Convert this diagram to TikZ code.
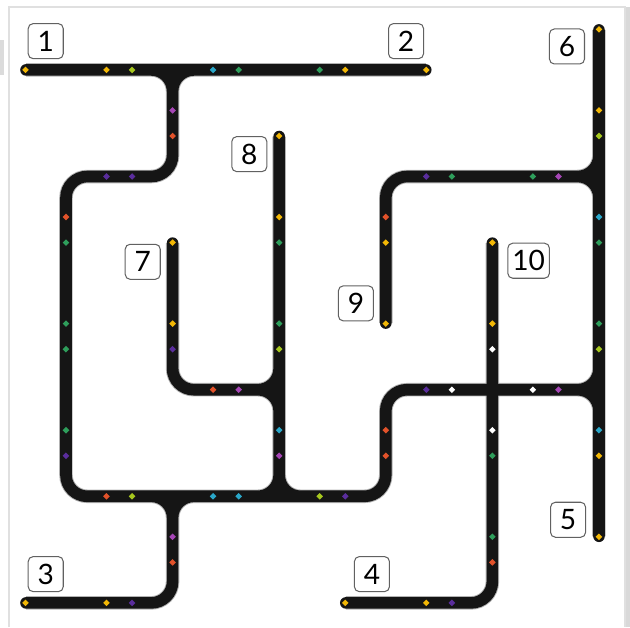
\documentclass[tikz,border=0pt]{standalone}
\usepackage{fontspec}
\newfontfamily\tagfont{Lato}
\definecolor{roadblack}{HTML}{151515}
\definecolor{dyellow}{HTML}{F2B705}
\definecolor{dlime}{HTML}{A6C71E}
\definecolor{dgreen}{HTML}{2E9E5B}
\definecolor{dcyan}{HTML}{2AA7C9}
\definecolor{dpurple}{HTML}{5A2D9C}
\definecolor{dmagenta}{HTML}{A545B5}
\definecolor{dred}{HTML}{E2522A}

\begin{document}
\begin{tikzpicture}[x=2cm,y=2cm,
  road/.style={draw=roadblack,line width=6.2pt,line cap=round,rounded corners=0.4cm,
    preaction={draw=black!30,line width=7.2pt}},
  tag/.style={draw=black!62,line width=0.55pt,rounded corners=2.6pt,fill=white,
    minimum size=18.7pt,inner xsep=2.4pt,inner ysep=0pt,
    font=\tagfont\fontsize{15}{15}\selectfont}]
\useasboundingbox (-0.619,-0.230) rectangle (5.291,5.656);
% ---------- page edge ----------
\fill[black!15] (5.244,-0.230) rectangle (5.291,5.590);
\draw[black!12,line width=0.6pt] (-0.535,-0.230) -- (-0.535,5.590) -- (5.244,5.590) -- (5.244,-0.230);
\fill[black!14] (-0.619,4.95) rectangle (-0.586,5.28);
% ---------- track ----------
\draw[road]
  (-0.375,5) -- (3.375,5)
  (0.5,5) -- (1,5) -- (1,4.5)
  (1.5,5) -- (1,5) -- (1,4) -- (0,4) -- (0,1) -- (3,1) -- (3,2) -- (5,2) -- (5,2.5)
  (4.5,2) -- (5,2) -- (5,1.5)
  (5,5.375) -- (5,0.625)
  (5,4.5) -- (5,4) -- (3,4) -- (3,2.625)
  (5,3.5) -- (5,4) -- (4.5,4)
  (4,3.375) -- (4,0) -- (2.625,0)
  (1,3.375) -- (1,2) -- (2,2) -- (2,2.5)
  (2,4.375) -- (2,1.5)
  (1.5,2) -- (2,2) -- (2,1.5)
  (1.5,1) -- (2,1) -- (2,1.5)
  (2.5,1) -- (2,1) -- (2,1.5)
  (0.5,1) -- (1,1) -- (1,0.5)
  (1.5,1) -- (1,1) -- (1,0) -- (-0.375,0);
% ---------- markers ----------
\foreach \p in {{-0.38,5},{0.38,5},{2.62,5},{3.38,5},{5,5.38},{5,4.62},{2,4.38},{2,3.62},
  {1,3.38},{1,2.62},{3,3.38},{3,2.62},{4,3.38},{4,2.62},{5,1.38},{5,0.62},
  {-0.38,0},{0.38,0},{2.62,0},{3.38,0}}
  \fill[dyellow] (\p) +(0.031,0) -- +(0,0.031) -- +(-0.031,0) -- +(0,-0.031) -- cycle;
\foreach \p in {{1.62,5},{2.38,5},{3.62,4},{4.38,4},{0,3.38},{0,2.62},{2,3.38},{2,2.62},
  {5,3.38},{5,2.62},{0,2.38},{0,1.62},{4,1.38},{4,0.62}}
  \fill[dgreen] (\p) +(0.031,0) -- +(0,0.031) -- +(-0.031,0) -- +(0,-0.031) -- cycle;
\foreach \p in {{0.38,4},{0.62,4},{3.38,4},{1,2.38},{3.38,2},{0,1.38},{2.62,1},{0.62,0},{3.62,0}}
  \fill[dpurple] (\p) +(0.031,0) -- +(0,0.031) -- +(-0.031,0) -- +(0,-0.031) -- cycle;
\foreach \p in {{0,3.62},{1,4.38},{3,3.62},{1.38,2},{3,1.62},{0.38,1},{3,1.38},{1,0.38},{4,0.38}}
  \fill[dred] (\p) +(0.031,0) -- +(0,0.031) -- +(-0.031,0) -- +(0,-0.031) -- cycle;
\foreach \p in {{0.62,5},{5,4.38},{2,2.38},{5,2.38},{0.62,1},{2.38,1}}
  \fill[dlime] (\p) +(0.031,0) -- +(0,0.031) -- +(-0.031,0) -- +(0,-0.031) -- cycle;
\foreach \p in {{1.38,5},{5,3.62},{2,1.62},{5,1.62},{1.38,1},{1.62,1}}
  \fill[dcyan] (\p) +(0.031,0) -- +(0,0.031) -- +(-0.031,0) -- +(0,-0.031) -- cycle;
\foreach \p in {{1,4.62},{4.62,4},{1.62,2},{4.62,2},{1,0.62},{2,1.38}}
  \fill[dmagenta] (\p) +(0.031,0) -- +(0,0.031) -- +(-0.031,0) -- +(0,-0.031) -- cycle;
\foreach \p in {{3.62,2},{4.38,2},{4,2.38},{4,1.62}}
  \fill[white] (\p) +(0.031,0) -- +(0,0.031) -- +(-0.031,0) -- +(0,-0.031) -- cycle;
% ---------- numbers ----------
\node[tag] (lbl1) at (-0.19,5.27) {1};
\node[tag] (lbl2) at (3.19,5.27) {2};
\node[tag] (lbl3) at (-0.19,0.27) {3};
\node[tag] (lbl4) at (2.87,0.27) {4};
\node[tag] (lbl5) at (4.71,0.78) {5};
\node[tag] (lbl6) at (4.70,5.22) {6};
\node[tag] (lbl7) at (0.72,3.20) {7};
\node[tag] (lbl8) at (1.72,4.21) {8};
\node[tag] (lbl9) at (2.72,2.81) {9};
\node[tag] (lbl10) at (4.34,3.21) {10};
\end{tikzpicture}
\end{document}
